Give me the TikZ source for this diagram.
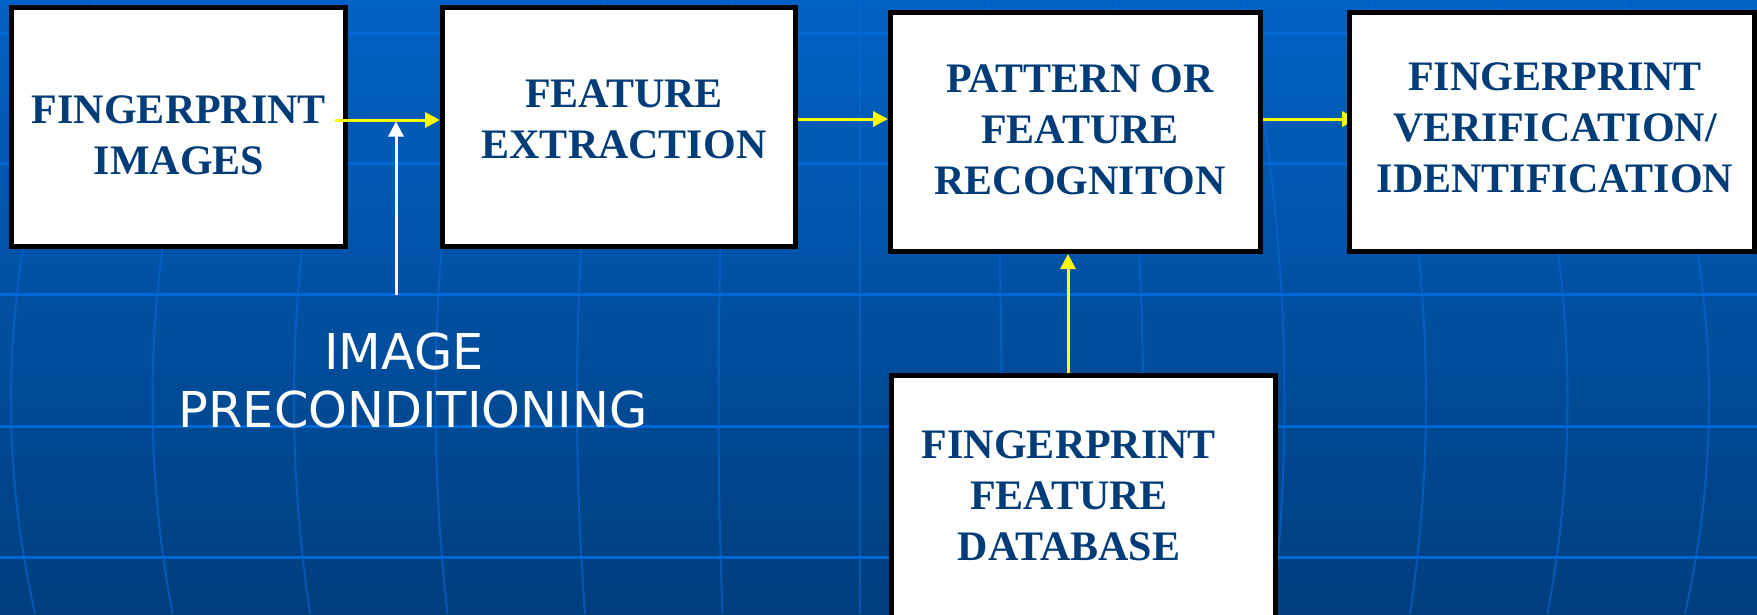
\documentclass[tikz,border=0pt]{standalone}
\usepackage{fontspec}
\usetikzlibrary{arrows.meta,calc}
\newfontfamily\boxfont{Liberation Serif}
\newfontfamily\labfont{DejaVu Sans}
\definecolor{bgtop}{RGB}{0,98,196}
\definecolor{bgbot}{RGB}{0,62,126}
\definecolor{hgrid}{RGB}{0,104,214}
\definecolor{vgrid}{RGB}{10,104,214}
\definecolor{navy}{RGB}{0,60,120}
\definecolor{flowyellow}{RGB}{255,255,0}
\newcommand\lnstrut{\rule{0pt}{32pt}}
\newcommand\lbstrut{\rule{0pt}{40pt}}
\pgfdeclarelayer{bg}
\pgfsetlayers{bg,main}
\begin{document}
\begin{tikzpicture}[x=1pt,y=-1pt,
  blockbox/.style n args={2}{draw=black, line width=5pt, fill=white,
    inner sep=0pt, minimum width=#1, minimum height=#2},
  boxtext/.style={font=\boxfont\bfseries\fontsize{42}{51}\selectfont,
    text=navy, align=center, anchor=north, inner sep=0pt},
  labtext/.style={font=\labfont\fontsize{49.4}{58}\selectfont,
    text=white, align=center, anchor=north, inner sep=0pt},
  yarrow/.style={draw=flowyellow, line width=3pt,
    -{Triangle[length=15pt,width=15pt]}},
  warrow/.style={draw=white, line width=3pt,
    -{Triangle[length=15pt,width=15pt]}},
  hline/.style={draw=hgrid, line width=3pt},
  vline/.style={draw=vgrid, line width=2pt, opacity=0.6}]
\useasboundingbox (0,0) rectangle (1757,614);

% processing blocks
\node[blockbox={334pt}{239pt}] (b1) at (178.5,127) {};
\node[blockbox={353pt}{239pt}] (b2) at (619,127) {};
\node[blockbox={370pt}{239pt}] (b3) at (1075.5,132) {};
\node[blockbox={405pt}{239pt}] (b4) at (1552,132) {};
\node[blockbox={384pt}{269pt}] (b5) at (1083.5,510) {};

% block captions
\node[boxtext] (t1) at (179,91) {\lnstrut FINGERPRINT\\IMAGES};
\node[boxtext] (t2) at (624,75) {\lnstrut FEATURE\\EXTRACTION};
\node[boxtext] (t3) at (1080,60) {\lnstrut PATTERN OR\\FEATURE\\RECOGNITON};
\node[boxtext] (t4) at (1555,58) {\lnstrut FINGERPRINT\\VERIFICATION/\\IDENTIFICATION};
\node[boxtext] (t5) at (1069,426) {\lnstrut FINGERPRINT\\FEATURE\\DATABASE};

\node[labtext] (lab) at (413,329) {\lbstrut IMAGE\hspace*{18pt}\\PRECONDITIONING};

% connectors
\coordinate (ya) at (0,120);
\coordinate (yb) at (0,119);
\coordinate (dbx) at (1068,0);
\coordinate (pcs) at (396,295);
\coordinate (pce) at (396,121.5);
\draw[yarrow] ($(b1.east |- ya)+(-13,0)$) -- (b2.west |- ya);
\draw[yarrow] (b2.east |- yb) -- (b3.west |- yb);
\draw[yarrow] (b5.north -| dbx) -- (b3.south -| dbx);
\draw[warrow] (pcs) -- (pce);

\begin{pgfonlayer}{bg}
  % backdrop with a globe-like grid
  \shade[top color=bgtop, bottom color=bgbot] (0,0) rectangle (1757,614);
  \foreach \yy in {33,163,294,426,557}
    \draw[hline] (0,\yy) -- (1757,\yy);
  \foreach \k in {-6,...,6}
    \draw[vline] plot[domain=0:614, samples=25, smooth, variable=\t]
      ({860+141.5*\k*(1-0.0062*((\t-400)/100)^2)}, {\t});
  % this arrow runs partly beneath the last block
  \draw[yarrow] (b3.east |- yb) -- ($(b4.west |- yb)+(10,0)$);
\end{pgfonlayer}
\end{tikzpicture}
\end{document}
